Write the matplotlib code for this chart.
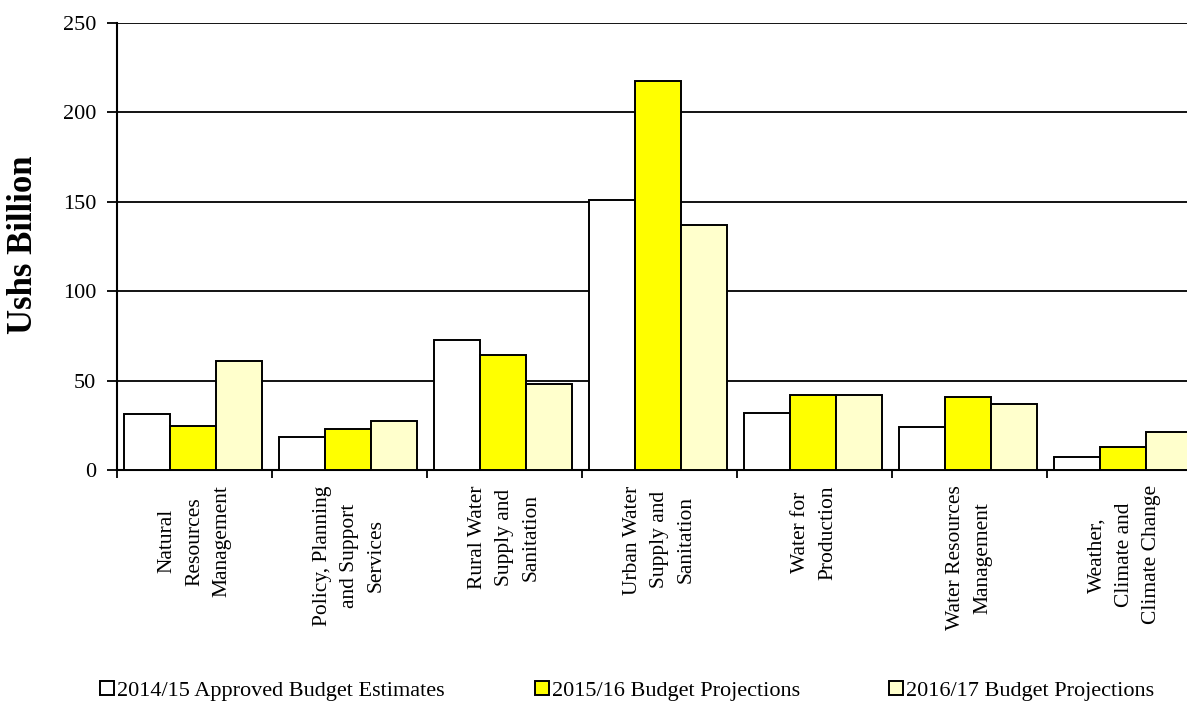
import matplotlib.pyplot as plt
import numpy as np

plt.rcParams['font.family'] = ['Liberation Serif', 'DejaVu Serif']

categories = ['Natural\nResources\nManagement',
              'Policy, Planning\nand Support\nServices',
              'Rural Water\nSupply and\nSanitation',
              'Urban Water\nSupply and\nSanitation',
              'Water for\nProduction',
              'Water Resources\nManagement',
              'Weather,\nClimate and\nClimate Change']
series_names = ['2014/15 Approved Budget Estimates',
                '2015/16 Budget Projections',
                '2016/17 Budget Projections']
approved_1415 = [31.3, 18.5, 72.5, 151.0, 31.6, 23.8, 7.4]
proj_1516 = [24.8, 22.8, 64.1, 217.4, 42.2, 41.1, 12.8]
proj_1617 = [60.8, 27.2, 48.3, 137.0, 42.2, 36.8, 21.5]
colors = ['#FFFFFF', '#FFFF00', '#FFFFCC']

fig = plt.figure(figsize=(11.87, 7.01), dpi=100)
W, H = 1187, 701
ax = fig.add_axes([117 / W, (H - 470) / H, (1187 - 117) / W, (470 - 23) / H])

x = np.arange(len(categories))
bw = 0.295
bars = []
for k, (vals, name) in enumerate(zip([approved_1415, proj_1516, proj_1617], series_names)):
    b = ax.bar(x + (k - 1) * bw - 0.01, vals, width=bw, color=colors[k], edgecolor='black',
               linewidth=1.4, label=name, zorder=3)
    bars.append(b)

ax.set_yticks(range(0, 251, 50))
ax.yaxis.grid(True, color='black', linewidth=1.3, zorder=0)
ax.tick_params(axis='y', labelsize=16, length=7, width=1.3, direction='out', pad=8)

ax.set_xticks(x)
ax.set_xticklabels(categories, rotation=90, ha='center', va='top', multialignment='center',
                   fontsize=15.5, linespacing=1.58)
ax.tick_params(axis='x', length=0, pad=11)
ax.set_xticks(np.arange(-0.5, len(categories) + 0.5, 1), minor=True)
ax.tick_params(axis='x', which='minor', length=6, width=1.3, direction='out')
ax.set_ylim(0, 250)
ax.set_xlim(-0.5, -0.5 + 1070 / 155)

for s in ['top', 'right']:
    ax.spines[s].set_visible(False)
for s in ['left', 'bottom']:
    ax.spines[s].set_linewidth(1.5)

fig.text(24 / W, (H - 245) / H, 'Ushs Billion', rotation=90, ha='center', va='center',
         fontsize=25, fontweight='bold')

# one legend per entry so each sits where it does in the original
for b, name, lx in zip(bars, series_names, [100, 535, 889]):
    fig.legend([b], [name], loc='lower left', bbox_to_anchor=(lx / W, 0.0), frameon=False,
               fontsize=16, handlelength=0.62, handleheight=0.62, handletextpad=0.15,
               borderpad=0, borderaxespad=0)

fig.savefig('out.png', dpi=100)
